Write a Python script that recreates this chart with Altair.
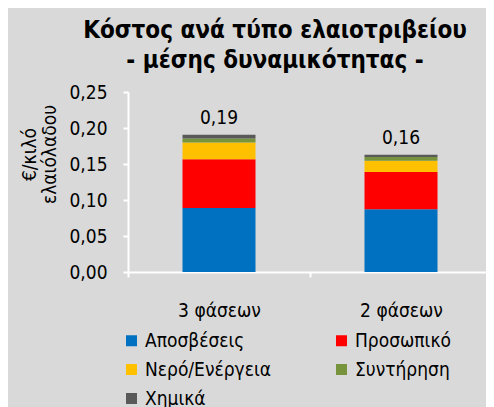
import altair as alt
import pandas as pd

categories = ["3 φάσεων", "2 φάσεων"]
series = ["Αποσβέσεις", "Προσωπικό", "Νερό/Ενέργεια", "Συντήρηση", "Χημικά"]
colors = ["#0070C0", "#FF0000", "#FFC000", "#77933C", "#595959"]
aposveseis = [0.089, 0.087]
prosopiko = [0.0675, 0.052]
nero_energeia = [0.0235, 0.0155]
syntirisi = [0.0055, 0.0053]
ximika = [0.005, 0.0032]
y_ticks = [0, 0.05, 0.10, 0.15, 0.20, 0.25]

FONT = "DejaVu Sans Condensed, DejaVu Sans"

values_by_series = [aposveseis, prosopiko, nero_energeia, syntirisi, ximika]
rows = []
for si, (name, vals) in enumerate(zip(series, values_by_series)):
    for ci, cat in enumerate(categories):
        rows.append({"category": cat, "series": name, "value": vals[ci], "order": si})
df = pd.DataFrame(rows)

x_scale = alt.Scale(paddingInner=0, paddingOuter=0, range=[0, 364])
y_scale = alt.Scale(domain=[0, 0.25], nice=False, zero=True)

x_axis = alt.Axis(
    labelAngle=0, labelFont=FONT, labelFontSize=19, labelColor="black",
    labelPadding=24, tickSize=5, tickColor="white", tickWidth=2,
    tickBand="extent", domainColor="white", domainWidth=2, grid=False,
)

y_axis = alt.Axis(
    values=y_ticks,
    labelOverlap=False,
    labelExpr="replace(format(datum.value, '.2f'), '.', ',')",
    labelFont=FONT, labelFontSize=19, labelColor="black",
    labelPadding=16, tickSize=5, tickColor="white", tickWidth=2,
    domainColor="white", domainWidth=2, grid=False,
    title=["€/κιλό", "ελαιόλαδου"],
    titleFont=FONT, titleFontSize=19, titleFontWeight="normal",
    titleColor="black", titleX=-89, titleY=62, titleAlign="center",
    titleBaseline="bottom", titleAngle=270, titleLineHeight=20,
)

bars = alt.Chart(df).mark_bar(size=73).encode(
    x=alt.X("category:N", sort=categories, title=None, scale=x_scale, axis=x_axis),
    y=alt.Y("value:Q", stack="zero", scale=y_scale, axis=y_axis),
    color=alt.Color(
        "series:N",
        sort=series,
        scale=alt.Scale(domain=series, range=colors),
        legend=alt.Legend(
            title=None, orient="none", legendX=-6, legendY=239,
            direction="horizontal",
            columns=2, symbolType="square", symbolSize=121,
            symbolStrokeWidth=0, labelFont=FONT, labelFontSize=19,
            labelColor="black", labelOffset=4, rowPadding=9,
            columnPadding=61, padding=0,
        ),
    ),
    order=alt.Order("order:Q", sort="ascending"),
)

labels = alt.Chart(df).transform_aggregate(
    total="sum(value)", groupby=["category"]
).transform_calculate(
    label="replace(format(datum.total, '.2f'), '.', ',')"
).mark_text(
    font=FONT, fontSize=19, color="black", baseline="alphabetic", dy=-11
).encode(
    x=alt.X("category:N", sort=categories, title=None, scale=x_scale, axis=x_axis),
    y=alt.Y("total:Q", scale=y_scale, axis=y_axis),
    text="label:N",
)

chart = alt.layer(bars, labels).properties(
    width=358,
    height=180,
    background="#D9D9D9",
    padding={"left": 120, "top": 84, "right": 0, "bottom": 135},
    autosize=alt.AutoSizeParams(type="none"),
    title=alt.TitleParams(
        text=["Κόστος ανά τύπο  ελαιοτριβείου", "- μέσης δυναμικότητας -"],
        font=FONT, fontSize=24, fontWeight="bold", color="black",
        anchor="middle", frame="group", dx=-32, offset=10, lineHeight=30,
    ),
).configure_view(stroke=None)

chart.save("out.html", embed_options={"renderer": "svg", "actions": False})
